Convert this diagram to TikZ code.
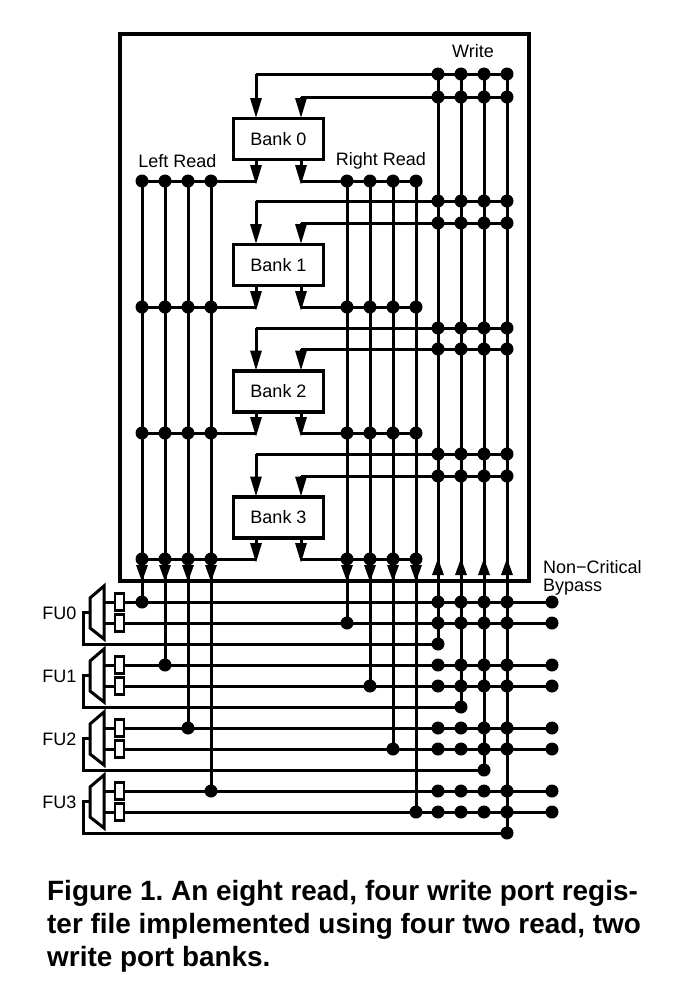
\documentclass[tikz,border=0pt]{standalone}
\usepackage{fontspec}
\setmainfont{Liberation Sans}
\usetikzlibrary{arrows.meta}
\tikzset{
  wire/.style={line width=3pt,black},
  dot/.style={circle,fill=black,inner sep=0pt,minimum size=13pt},
  bankbox/.style={draw,line width=3.4pt,fill=white,minimum width=90pt,minimum height=41pt,inner sep=0pt,font=\fontsize{18}{20}\selectfont},
  lab/.style={inner sep=0pt,font=\fontsize{18}{20}\selectfont},
  bigarrow/.style={wire,-{Triangle[length=20pt,width=11pt]}},
  midarrow/.style={wire,-{Triangle[length=17pt,width=11pt]}},
  latch/.style={draw,line width=2.6pt,fill=white,minimum width=9pt,minimum height=17pt,inner sep=0pt},
  caption/.style={inner sep=0pt,anchor=base west,font=\fontsize{27.9}{33}\bfseries\selectfont}
}
\begin{document}
\frenchspacing
\begin{tikzpicture}[x=1pt,y=-1pt]
\useasboundingbox (0,0) rectangle (686,997);
\node[draw,line width=3.2pt,minimum width=409pt,minimum height=547pt,inner sep=0pt] (outer) at (324.5,307.5) {};
\node[lab] (write) at (473,51) {Write};
\node[lab] (leftread) at (177.5,161) {Left Read};
\node[lab] (rightread) at (381,161) {Right Read};
\node[lab,anchor=west] (nc) at (543,567) {Non\textminus Critical};
\node[lab,anchor=west] (bp) at (543,587) {Bypass};
% banks
\foreach \b/\yt/\ya/\yb/\yr in {0/139/74/97/181, 1/265/201/223/307, 2/391.5/328/349/433, 3/517.5/454/476/559} {
  \node[bankbox] (bank\b) at (278.5,\yt) {Bank \b};
  % write feeds
  \coordinate (wa\b) at (256,\ya);
  \coordinate (wb\b) at (301,\yb);
  \coordinate (ia\b) at (256,\yt-21);
  \coordinate (ib\b) at (301,\yt-21);
  \coordinate (oa\b) at (256,\yt+21);
  \coordinate (ob\b) at (301,\yt+21);
  \coordinate (ta\b) at (256,\yr+4);
  \coordinate (tb\b) at (301,\yr+4);
  \coordinate (ra\b) at (256,\yr);
  \coordinate (rb\b) at (301,\yr);
  \foreach \i/\x in {1/438,2/461,3/484,4/507} {
    \coordinate (wx\b a\i) at (\x,\ya);
    \coordinate (wx\b b\i) at (\x,\yb);
  }
  \foreach \i/\x in {1/142,2/165,3/188,4/211} \coordinate (lr\b n\i) at (\x,\yr);
  \foreach \i/\x in {1/347,2/370,3/393,4/416} \coordinate (rr\b n\i) at (\x,\yr);
  \draw[wire] (wx\b a4) -- (wa\b);
  \draw[wire] (wx\b b4) -- (wb\b);
  \draw[wire] (lr\b n1) -- (ra\b);
  \draw[wire] (rb\b) -- (rr\b n4);
  \draw[bigarrow] (wa\b) -- (ia\b);
  \draw[bigarrow] (wb\b) -- (ib\b);
  \draw[bigarrow] (oa\b) -- (ta\b);
  \draw[bigarrow] (ob\b) -- (tb\b);
}
% function units
\foreach \f/\ya/\yb/\yc/\r/\lx/\rx/\wx in {0/602/623/644/1/142/347/438, 1/665/686/707/2/165/370/461, 2/728/749/770/3/188/393/484, 3/791/812/833/4/211/416/507} {
  \node[lab] (fu\f) at (59.5,\ya+11) {FU\f};
  \coordinate (m1\f) at (104,\ya-16);
  \coordinate (m2\f) at (104,\ya+37);
  \coordinate (m3\f) at (90,\ya+26);
  \coordinate (m4\f) at (90,\ya-4);
  \draw[line width=3pt,line join=miter] (m1\f) -- (m2\f) -- (m3\f) -- (m4\f) -- cycle;
  \coordinate (ma\f) at (104,\ya);
  \coordinate (mb\f) at (104,\yb);
  \coordinate (mf\f) at (90,\ya+10);
  \coordinate (fb1\f) at (83,\ya+10);
  \coordinate (fb2\f) at (83,\yc);
  \node[dot] (fbd\f) at (\wx,\yc) {};
  \coordinate (ea\f) at (552,\ya);
  \coordinate (eb\f) at (552,\yb);
  \draw[wire] (ma\f) -- (ea\f);
  \draw[wire] (mb\f) -- (eb\f);
  \draw[wire,line join=miter] (mf\f) -- (fb1\f) -- (fb2\f) -- (fbd\f.center);
  \node[latch] (la\f) at (119.5,\ya) {};
  \node[latch] (lb\f) at (119.5,\yb) {};
  \node[dot] at (ea\f) {};
  \node[dot] at (eb\f) {};
  % read-port tapping
  \node[dot] (lt\f) at (\lx,\ya) {};
  \node[dot] (rt\f) at (\rx,\yb) {};
  \draw[wire] (lr0n\r) -- (lt\f.center);
  \draw[wire] (rr0n\r) -- (rt\f.center);
  \draw[wire] (wx0a\r) -- (fbd\f.center);
  % arrowheads at the box edge
  \coordinate (ah1\f) at (\lx,564);
  \coordinate (at1\f) at (\lx,582);
  \coordinate (ah2\f) at (\rx,564);
  \coordinate (at2\f) at (\rx,582);
  \coordinate (ah3\f) at (\wx,578);
  \coordinate (at3\f) at (\wx,558);
  \draw[midarrow] (ah1\f) -- (at1\f);
  \draw[midarrow] (ah2\f) -- (at2\f);
  \draw[midarrow] (ah3\f) -- (at3\f);
  \foreach \x in {438,461,484,507} {
    \node[dot] at (\x,\ya) {};
    \node[dot] at (\x,\yb) {};
  }
}
% dots on the bank buses
\foreach \b in {0,1,2,3} {
  \foreach \i in {1,2,3,4} {
    \node[dot] at (wx\b a\i) {};
    \node[dot] at (wx\b b\i) {};
    \node[dot] at (lr\b n\i) {};
    \node[dot] at (rr\b n\i) {};
  }
}
\node[caption] (c1) at (47,900.5) {Figure 1. An eight read, four write port regis-};
\node[caption] (c2) at (47,933.5) {ter file implemented using four two read, two};
\node[caption] (c3) at (47,966.5) {write port banks.};
\end{tikzpicture}
\end{document}
